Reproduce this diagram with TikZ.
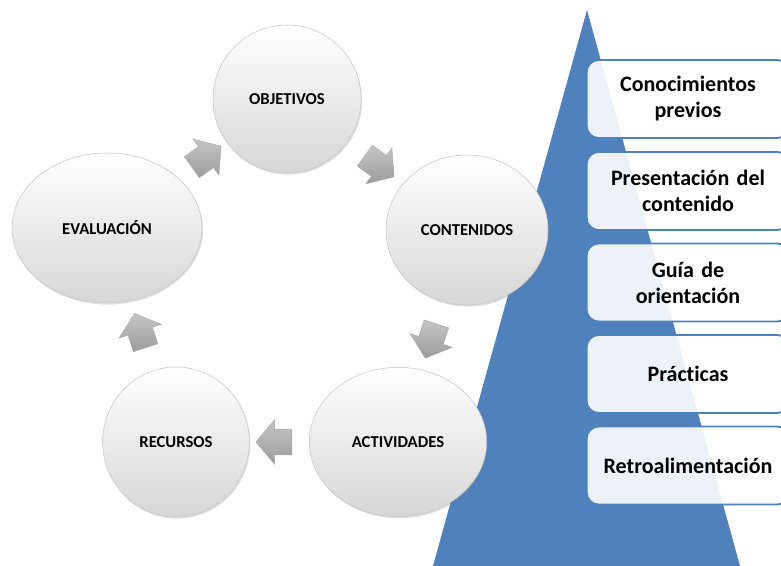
\documentclass[tikz,border=0pt]{standalone}
\usepackage{fontspec}
\setmainfont[Ligatures=NoCommon]{Carlito}
\usetikzlibrary{shapes,arrows,shadows}
\definecolor{piramide}{RGB}{79,129,189}
\tikzstyle{fase} = [ellipse, draw=gray!45, line width=0.4pt, top color=white, bottom color=gray!32, drop shadow={shadow xshift=0.8pt, shadow yshift=-1.2pt, opacity=0.25}, font=\fontsize{12.5}{14}\selectfont\bfseries]
\tikzstyle{flecha} = [single arrow, draw=gray!70, line width=0.3pt, top color=gray!45, bottom color=gray!78, minimum height=27pt, inner xsep=0pt, inner ysep=9.5pt, single arrow head extend=7pt, single arrow tip angle=100, sloped, allow upside down]
\tikzstyle{paso} = [rectangle, rounded corners=9pt, draw=piramide, line width=1.4pt, fill=white, fill opacity=0.9, text opacity=1, text width=146pt, inner xsep=3pt, align=center, minimum height=58.5pt, font=\fontsize{16.5}{19.5}\selectfont\bfseries]

\begin{document}
\begin{tikzpicture}[x=0.75pt, y=-0.75pt]
\useasboundingbox (0,0) rectangle (781,566);
% piramide
\fill [piramide] (587,10) -- (740,566) -- (433,566) -- cycle;

% ciclo
\node [fase, minimum width=111pt, minimum height=111pt] (obj) at (287,99) {OBJETIVOS};
\node [fase, minimum width=121.5pt, minimum height=112.5pt] (cont) at (467,230) {CONTENIDOS};
\node [fase, minimum width=133pt, minimum height=112pt] (act) at (398,442) {ACTIVIDADES};
\node [fase, minimum width=110pt, minimum height=112.5pt] (rec) at (176,442) {RECURSOS};
\node [fase, minimum width=142.5pt, minimum height=112.5pt] (eval) at (107,228) {EVALUACIÓN};
\path (obj) -- node [flecha] {} (cont);
\path (cont) -- node [flecha] {} (act);
\path (act) -- node [flecha] {} (rec);
\path (rec) -- node [flecha] {} (eval);
\path (eval) -- node [flecha] {} (obj);

% pasos
\begin{scope}
\clip (0,0) rectangle (781,566);
\node [paso] (previos) at (688,99) {Conocimientos\\previos};
\node [paso] (presentacion) at (688,191) {Presentación del\\contenido};
\node [paso] (guia) at (688,282.5) {Guía de\\orientación};
\node [paso] (practicas) at (688,374) {Prácticas};
\node [paso] (retro) at (688,465.5) {Retroalimentación};
\end{scope}
\end{tikzpicture}
\end{document}
